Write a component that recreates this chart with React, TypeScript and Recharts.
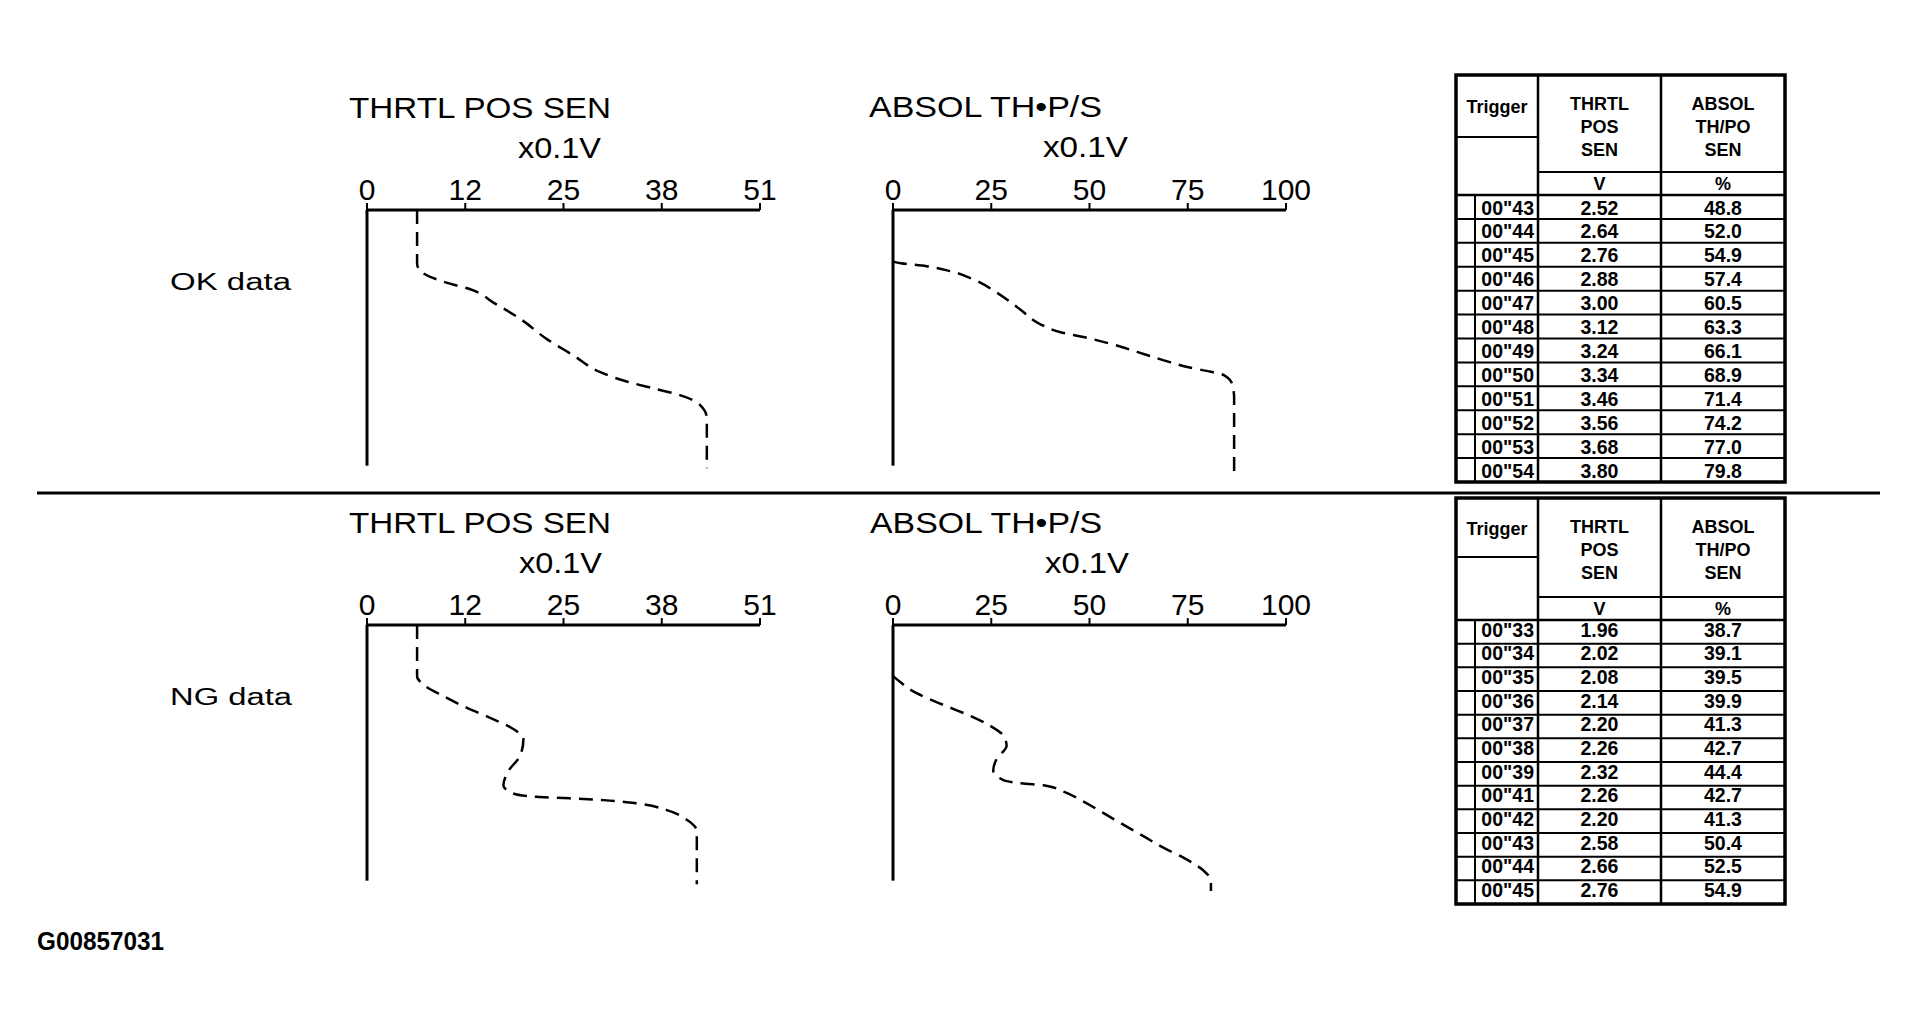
import React from 'react';
import { LineChart, Line, XAxis, YAxis, ReferenceLine } from 'recharts';

const FONT = '"Liberation Sans", Arial, Helvetica, sans-serif';

// scale ticks (the TPS scale is split in quarters, labels are rounded down)
const TPS_TICKS = [0, 12.75, 25.5, 38.25, 51];
const TPS_TICK_LABELS = ['0', '12', '25', '38', '51'];
const ABS_TICKS = [0, 25, 50, 75, 100];
const ABS_TICK_LABELS = ['0', '25', '50', '75', '100'];

// traces: t = position down the time axis (0 top .. 100 bottom), v = reading on the scale
const OK_TPS_T = [0, 21, 24.5, 28.4, 31.0, 36.2, 42.6, 50.4, 56.9, 63.3, 67.1, 69.8, 72.4, 76.2, 81.4, 86, 101];
const OK_TPS_V = [6.5, 6.5, 7.2, 10.3, 13.4, 16.4, 19.9, 23.3, 26.8, 30.2, 33.7, 37.2, 40.6, 43.2, 44.1, 44.1, 44.1];

const OK_ABS_T = [20.2, 20.8, 22.0, 23.9, 27.1, 32.3, 38.8, 44.6, 47.8, 49.7, 52.3, 55.5, 58.8, 61.4, 63.3, 64.6, 68.5, 73.6, 80, 104.5];
const OK_ABS_V = [0, 2, 8.5, 14.5, 20.4, 26.4, 32.3, 37.4, 42.6, 48.5, 55.3, 62.1, 68.9, 74.9, 80.9, 84.2, 86.4, 86.8, 86.8, 86.8];

const NG_TPS_T = [0, 20, 23.3, 27.8, 32.3, 36.2, 40.0, 44.6, 51.0, 56.9, 62.7, 65.9, 67.2, 67.8, 68.5, 69.8, 72.4, 76.2, 80.7, 88.5, 101.4];
const NG_TPS_V = [6.5, 6.5, 7.3, 9.9, 12.9, 15.9, 18.6, 20.3, 19.9, 18.4, 17.7, 19.0, 22.0, 26.3, 30.7, 35.0, 38.9, 41.5, 42.8, 42.8, 42.8];

const NG_ABS_T = [20.0, 22.5, 25.2, 29.1, 32.3, 35.5, 39.4, 43.3, 47.2, 52.3, 56.9, 60.7, 62.0, 62.7, 65.2, 69.1, 73.6, 78.2, 82.7, 87.2, 91.1, 96.2, 100, 104];
const NG_ABS_V = [0, 2.0, 4.3, 9.4, 14.5, 19.6, 24.7, 28.1, 28.9, 26.4, 25.5, 28.1, 33.2, 38.3, 43.4, 48.5, 53.6, 58.7, 63.8, 68.9, 74.0, 79.1, 80.9, 80.9];

// freeze-frame tables
const OK_TIMES = ['00"43', '00"44', '00"45', '00"46', '00"47', '00"48', '00"49', '00"50', '00"51', '00"52', '00"53', '00"54'];
const OK_VOLTS = ['2.52', '2.64', '2.76', '2.88', '3.00', '3.12', '3.24', '3.34', '3.46', '3.56', '3.68', '3.80'];
const OK_PCTS = ['48.8', '52.0', '54.9', '57.4', '60.5', '63.3', '66.1', '68.9', '71.4', '74.2', '77.0', '79.8'];

const NG_TIMES = ['00"33', '00"34', '00"35', '00"36', '00"37', '00"38', '00"39', '00"41', '00"42', '00"43', '00"44', '00"45'];
const NG_VOLTS = ['1.96', '2.02', '2.08', '2.14', '2.20', '2.26', '2.32', '2.26', '2.20', '2.58', '2.66', '2.76'];
const NG_PCTS = ['38.7', '39.1', '39.5', '39.9', '41.3', '42.7', '44.4', '42.7', '41.3', '50.4', '52.5', '54.9'];

const toRows = (t: number[], v: number[]) => t.map((tt, i) => ({ t: tt, v: v[i] }));

interface TraceProps {
    left: number;
    top: number;
    ticks: number[];
    labels: string[];
    max: number;
    data: { t: number; v: number }[];
}

const Trace = ({ left, top, ticks, labels, max, data }: TraceProps) => (
    <div style={{ position: 'absolute', left, top }}>
        <LineChart
            layout="vertical"
            width={480}
            height={440}
            data={data}
            margin={{ top: 120, right: 40, bottom: 19, left: 47 }}
        >
            <XAxis
                type="number"
                orientation="top"
                height={30}
                domain={[0, max]}
                ticks={ticks}
                interval={0}
                tickFormatter={(_v: number, i: number) => labels[i]}
                tick={{ fill: '#000', fontSize: 30, fontFamily: FONT }}
                tickLine={{ stroke: '#000', strokeWidth: 2 }}
                axisLine={{ stroke: '#000', strokeWidth: 3 }}
                tickSize={7}
                tickMargin={3}
            />
            <YAxis type="number" dataKey="t" domain={[0, 106]} hide />
            <ReferenceLine segment={[{ x: 0, y: 0 }, { x: 0, y: 100 }]} stroke="#000" strokeWidth={3} />
            <Line
                type="monotone"
                dataKey="v"
                stroke="#000"
                strokeWidth={2.5}
                strokeDasharray="14 8"
                dot={false}
                activeDot={false}
                isAnimationActive={false}
            />
        </LineChart>
    </div>
);

interface TableProps {
    top: number;
    trigBottom: number;
    headBottom: number;
    unitBottom: number;
    bottom: number;
    textOffset: number;
    times: string[];
    volts: string[];
    pcts: string[];
}

const DataTable = ({ top, trigBottom, headBottom, unitBottom, bottom, textOffset, times, volts, pcts }: TableProps) => {
    const x0 = 1456, x1 = 1475, x2 = 1538, x3 = 1661, x4 = 1785;
    const rowH = (bottom - unitBottom) / times.length;
    const bold = { fontFamily: FONT, fontWeight: 700, fill: '#000' } as const;
    return (
        <g>
            <rect x={x0} y={top} width={x4 - x0} height={bottom - top} fill="none" stroke="#000" strokeWidth={3.5} />
            <line x1={x2} y1={top} x2={x2} y2={bottom} stroke="#000" strokeWidth={2.5} />
            <line x1={x3} y1={top} x2={x3} y2={bottom} stroke="#000" strokeWidth={2.5} />
            <line x1={x1} y1={unitBottom} x2={x1} y2={bottom} stroke="#000" strokeWidth={2} />
            <line x1={x0} y1={trigBottom} x2={x2} y2={trigBottom} stroke="#000" strokeWidth={2} />
            <line x1={x2} y1={headBottom} x2={x4} y2={headBottom} stroke="#000" strokeWidth={2} />
            <line x1={x0} y1={unitBottom} x2={x4} y2={unitBottom} stroke="#000" strokeWidth={2.5} />
            {times.slice(1).map((_, i) => (
                <line key={i} x1={x0} y1={unitBottom + (i + 1) * rowH} x2={x4} y2={unitBottom + (i + 1) * rowH} stroke="#000" strokeWidth={2} />
            ))}

            <text x={(x0 + x2) / 2} y={(top + trigBottom) / 2 + 7} textAnchor="middle" fontSize={18} {...bold}>Trigger</text>
            {['THRTL', 'POS', 'SEN'].map((s, i) => (
                <text key={'a' + i} x={(x2 + x3) / 2} y={top + 34.5 + i * 23.3} textAnchor="middle" fontSize={18} {...bold}>{s}</text>
            ))}
            {['ABSOL', 'TH/PO', 'SEN'].map((s, i) => (
                <text key={'b' + i} x={(x3 + x4) / 2} y={top + 34.5 + i * 23.3} textAnchor="middle" fontSize={18} {...bold}>{s}</text>
            ))}
            <text x={(x2 + x3) / 2} y={(headBottom + unitBottom) / 2 + 6.5} textAnchor="middle" fontSize={18} {...bold}>V</text>
            <text x={(x3 + x4) / 2} y={(headBottom + unitBottom) / 2 + 6.5} textAnchor="middle" fontSize={18} {...bold}>%</text>

            {times.map((tm, i) => {
                const y = unitBottom + i * rowH + textOffset;
                return (
                    <g key={'r' + i}>
                        <text x={x2 - 4} y={y} textAnchor="end" fontSize={19.5} {...bold}>{tm}</text>
                        <text x={(x2 + x3) / 2} y={y} textAnchor="middle" fontSize={19.5} {...bold}>{volts[i]}</text>
                        <text x={(x3 + x4) / 2} y={y} textAnchor="middle" fontSize={19.5} {...bold}>{pcts[i]}</text>
                    </g>
                );
            })}
        </g>
    );
};

const Label = ({ x, y, size, len, weight = 400, children }: { x: number; y: number; size: number; len: number; weight?: number; children: string }) => (
    <text x={x} y={y} fontSize={size} fontFamily={FONT} fontWeight={weight} fill="#000" textLength={len} lengthAdjust="spacingAndGlyphs">
        {children}
    </text>
);

const App = () => {
    return (
        <div style={{ position: 'absolute', left: 0, top: 0, width: 1917, height: 1025, background: '#fff', overflow: 'hidden' }}>
            <svg width={1917} height={1025} style={{ position: 'absolute', left: 0, top: 0 }}>
                {/* OK block */}
                <Label x={349} y={118} size={30} len={262}>THRTL POS SEN</Label>
                <Label x={518} y={158} size={30} len={83}>x0.1V</Label>
                <Label x={869} y={117} size={30} len={233}>ABSOL TH•P/S</Label>
                <Label x={1043} y={157} size={30} len={85}>x0.1V</Label>
                <Label x={170} y={290} size={23} len={121}>OK data</Label>

                <line x1={37} y1={493} x2={1880} y2={493} stroke="#000" strokeWidth={3} />

                {/* NG block */}
                <Label x={349} y={533} size={30} len={262}>THRTL POS SEN</Label>
                <Label x={519} y={573} size={30} len={83}>x0.1V</Label>
                <Label x={870} y={533} size={30} len={232}>ABSOL TH•P/S</Label>
                <Label x={1045} y={573} size={30} len={84}>x0.1V</Label>
                <Label x={170} y={705} size={23} len={122}>NG data</Label>

                <Label x={37} y={950} size={25} len={127} weight={700}>G00857031</Label>

                <DataTable top={75} trigBottom={137} headBottom={172} unitBottom={195} bottom={482} textOffset={19.5}
                    times={OK_TIMES} volts={OK_VOLTS} pcts={OK_PCTS} />
                <DataTable top={498} trigBottom={557} headBottom={597} unitBottom={620} bottom={904} textOffset={16.5}
                    times={NG_TIMES} volts={NG_VOLTS} pcts={NG_PCTS} />
            </svg>

            <Trace left={320} top={60} ticks={TPS_TICKS} labels={TPS_TICK_LABELS} max={51} data={toRows(OK_TPS_T, OK_TPS_V)} />
            <Trace left={846} top={60} ticks={ABS_TICKS} labels={ABS_TICK_LABELS} max={100} data={toRows(OK_ABS_T, OK_ABS_V)} />
            <Trace left={320} top={475} ticks={TPS_TICKS} labels={TPS_TICK_LABELS} max={51} data={toRows(NG_TPS_T, NG_TPS_V)} />
            <Trace left={846} top={475} ticks={ABS_TICKS} labels={ABS_TICK_LABELS} max={100} data={toRows(NG_ABS_T, NG_ABS_V)} />
        </div>
    );
};

export default App;
